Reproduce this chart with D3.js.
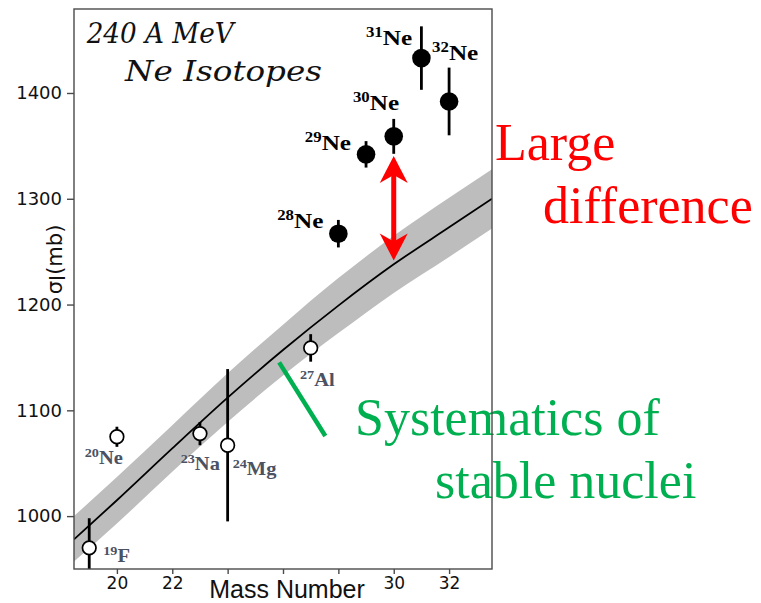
<!DOCTYPE html>
<html><head><meta charset="utf-8">
<script src="https://cdn.jsdelivr.net/npm/d3@7"></script>
<style>body{margin:0;background:#fff}svg{display:block}</style>
</head><body><svg id="c" width="761" height="603"></svg>
<script>
// ---- data ----
const stableA = [19, 20, 23, 24, 27];
const stableMass = ["19", "20", "23", "24", "27"];
const stableElem = ["F", "Ne", "Na", "Mg", "Al"];
const stableSigma = [970, 1075, 1078, 1067, 1159];
const stableErr = [28, 9.5, 11, 72, 13];

const neA = [28, 29, 30, 31, 32];
const neMass = ["28", "29", "30", "31", "32"];
const neSigma = [1267, 1342, 1359, 1433, 1392];
const neErr = [13, 12.5, 16.5, 30, 32];

const sysA = [18.45, 20, 22, 24, 26, 28, 30, 32, 33.55];
const sysSigma = [978, 1015, 1064, 1112, 1157, 1199, 1238, 1273, 1300];
const sysLow = [957, 993, 1042, 1089, 1133, 1173, 1211, 1245, 1272];
const sysHigh = [1000, 1037, 1086, 1135, 1181, 1225, 1265, 1301, 1328];

const xTicks = [20, 22, 24, 26, 28, 30, 32];
const xTickLabels = ["20", "22", "", "", "", "30", "32"];
const yTicks = [1000, 1100, 1200, 1300, 1400];

// annotation anchors (data units)
const arrowA = 30, arrowTop = 1340.4, arrowBottom = 1241.6;
const greenLineA = [25.86, 27.53], greenLineS = [1145.3, 1075.7];

// ---- layout ----
const svg = d3.select("#c");
const L = 74, R = 492, T = 9, B = 569;
const x = d3.scaleLinear().domain([18.45, 33.55]).range([L, R]);
const y = d3.scaleLinear().domain([950, 1479.4]).range([B, T]);

svg.append("defs").append("clipPath").attr("id", "clip")
  .append("rect").attr("x", L).attr("y", T).attr("width", R - L).attr("height", B - T);

const plot = svg.append("g").attr("clip-path", "url(#clip)");

const sys = sysA.map((a, i) => ({a, s: sysSigma[i], lo: sysLow[i], hi: sysHigh[i]}));
plot.append("path").datum(sys)
  .attr("d", d3.area().x(d => x(d.a)).y0(d => y(d.lo)).y1(d => y(d.hi)).curve(d3.curveMonotoneX))
  .attr("fill", "#bdbdbd");
plot.append("path").datum(sys)
  .attr("d", d3.line().x(d => x(d.a)).y(d => y(d.s)).curve(d3.curveMonotoneX))
  .attr("fill", "none").attr("stroke", "#000").attr("stroke-width", 1.8);

const stable = stableA.map((a, i) => ({a, s: stableSigma[i], e: stableErr[i], m: stableMass[i], el: stableElem[i]}));
const ne = neA.map((a, i) => ({a, s: neSigma[i], e: neErr[i], m: neMass[i], el: "Ne"}));

plot.selectAll(".eb").data(stable.concat(ne)).join("line")
  .attr("x1", d => x(d.a)).attr("x2", d => x(d.a))
  .attr("y1", d => y(d.s - d.e)).attr("y2", d => y(d.s + d.e))
  .attr("stroke", "#000").attr("stroke-width", 2.8);

svg.selectAll(".oc").data(stable).join("circle")
  .attr("cx", d => x(d.a)).attr("cy", d => y(d.s)).attr("r", 6.8)
  .attr("fill", "#fff").attr("stroke", "#000").attr("stroke-width", 1.7);
svg.selectAll(".fc").data(ne).join("circle")
  .attr("cx", d => x(d.a)).attr("cy", d => y(d.s)).attr("r", 9.3)
  .attr("fill", "#000");

// isotope labels
function isoLabel(d, dx, dy, anchor, big, small, raise, sx, color) {
  const g = svg.append("g")
    .attr("transform", `translate(${x(d.a) + dx},${y(d.s) + dy}) scale(${sx},1)`);
  const t = g.append("text").attr("text-anchor", anchor)
    .attr("font-family", "'Liberation Serif','Times New Roman',serif")
    .attr("font-weight", "bold").attr("fill", color);
  t.append("tspan").attr("font-size", small).attr("dy", -raise).text(d.m);
  t.append("tspan").attr("font-size", big).attr("dy", raise).text(d.el);
}
const neOff = [[-15, -5.6, "end"], [-15, -4.7, "end"], [5.4, -26, "end"], [-9.3, -12.7, "end"], [-17, -41, "start"]];
ne.forEach((d, i) => isoLabel(d, neOff[i][0], neOff[i][1], neOff[i][2], 21, 14, 8, 1.2, "#000"));
const stOff = [[14, 14, "start"], [6, 27.3, "end"], [20, 36, "end"], [5, 30, "start"], [24, 38.4, "end"]];
stable.forEach((d, i) => isoLabel(d, stOff[i][0], stOff[i][1], stOff[i][2], 18, 12.5, 7, 1.14, "#4b5263"));

// title
const tfont = "'DejaVu Serif','Liberation Serif',serif";
svg.append("text").attr("x", 86.7).attr("y", 43)
  .attr("font-family", tfont).attr("font-style", "italic")
  .attr("font-size", 28).attr("fill", "#111")
  .attr("textLength", 147).attr("lengthAdjust", "spacingAndGlyphs").text("240 A MeV");
svg.append("text").attr("x", 125).attr("y", 81)
  .attr("font-family", tfont).attr("font-style", "italic")
  .attr("font-size", 28).attr("fill", "#111")
  .attr("textLength", 197).attr("lengthAdjust", "spacingAndGlyphs").text("Ne Isotopes");

// annotations
svg.append("line")
  .attr("x1", x(greenLineA[0])).attr("y1", y(greenLineS[0]))
  .attr("x2", x(greenLineA[1])).attr("y2", y(greenLineS[1]))
  .attr("stroke", "#00b050").attr("stroke-width", 4.5);

const ax = x(arrowA), yT = y(arrowTop), yB = y(arrowBottom);
svg.append("line").attr("x1", ax).attr("x2", ax).attr("y1", yT + 15).attr("y2", yB - 15)
  .attr("stroke", "#ff0000").attr("stroke-width", 5);
svg.append("path").attr("fill", "#ff0000")
  .attr("d", `M${ax},${yT} L${ax + 14},${yT + 27} L${ax},${yT + 19} L${ax - 14},${yT + 27} Z`);
svg.append("path").attr("fill", "#ff0000")
  .attr("d", `M${ax},${yB} L${ax + 14},${yB - 27} L${ax},${yB - 19} L${ax - 14},${yB - 27} Z`);

const serif = "'Liberation Serif','Times New Roman',serif";
[["Large", 495, 160, "#ff0000"], ["difference", 543, 223, "#ff0000"],
 ["Systematics of", 355, 435, "#00b050"], ["stable nuclei", 435, 498, "#00b050"]]
  .forEach(([t, tx, ty, c]) => svg.append("text").attr("x", tx).attr("y", ty)
    .attr("font-family", serif).attr("font-size", 52).attr("fill", c).text(t));

// frame
svg.append("rect").attr("x", L).attr("y", T).attr("width", R - L).attr("height", B - T)
  .attr("fill", "none").attr("stroke", "#4a4a4a").attr("stroke-width", 1.4);

// axes
const sans = "'DejaVu Sans',Verdana,sans-serif";
const yAx = svg.append("g").attr("transform", `translate(${L},0)`)
  .call(d3.axisLeft(y).tickValues(yTicks).tickSize(7).tickPadding(5).tickFormat(d3.format("d")));
const xAx = svg.append("g").attr("transform", `translate(0,${B})`)
  .call(d3.axisBottom(x).tickValues(xTicks).tickSize(5).tickPadding(3)
    .tickFormat((d, i) => xTickLabels[i]));
[yAx, xAx].forEach(g => {
  g.select(".domain").remove();
  g.selectAll(".tick line").attr("stroke", "#4a4a4a").attr("stroke-width", 1.4);
  g.selectAll(".tick text").attr("font-family", sans).attr("fill", "#111");
});
yAx.selectAll(".tick text").attr("font-size", 18);
xAx.selectAll(".tick text").attr("font-size", 17);

svg.append("text").attr("x", (L + R) / 2 + 4).attr("y", 598).attr("text-anchor", "middle")
  .attr("font-family", "'Liberation Sans',Arial,sans-serif").attr("font-size", 25).attr("fill", "#111")
  .text("Mass Number");

const yl = svg.append("text").attr("transform", "translate(61.5,259.5) rotate(-90)")
  .attr("text-anchor", "middle").attr("font-family", sans).attr("font-size", 21).attr("fill", "#111");
yl.append("tspan").text("σ");
yl.append("tspan").attr("dy", 3.5).text("I");
yl.append("tspan").attr("dy", -3.5).text("(mb)");
</script></body></html>
